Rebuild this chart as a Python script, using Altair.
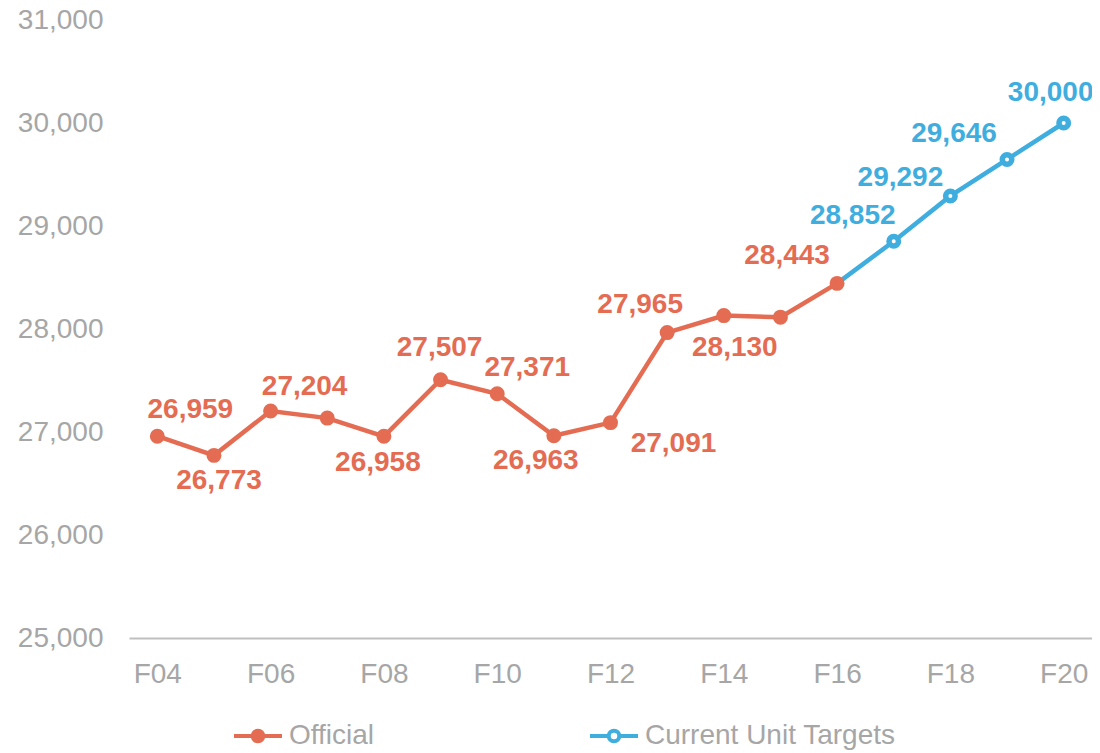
import altair as alt
import pandas as pd

years = ["F04", "F05", "F06", "F07", "F08", "F09", "F10", "F11", "F12",
         "F13", "F14", "F15", "F16", "F17", "F18", "F19", "F20"]
official = [26959, 26773, 27204, 27135, 26958, 27507, 27371, 26963, 27091,
            27965, 28130, 28115, 28443, None, None, None, None]
targets = [None, None, None, None, None, None, None, None, None,
           None, None, None, 28443, 28852, 29292, 29646, 30000]
official_labeled = [True, True, True, False, True, True, True, True, True,
                    True, True, False, True, False, False, False, False]
targets_labeled = [False] * 13 + [True, True, True, True]

# label offsets in pixels (layout only)
official_dx = [33, 5, 34, 0, -6, -1, 30, -18, 63, -27, 11, 0, -50, 0, 0, 0, 0]
official_dy = [-26, 26, -24, 0, 27, -32, -26, 25, 21, -28, 32, 0, -27, 0, 0, 0, 0]
targets_dx = [0] * 13 + [-41, -50, -53, -13]
targets_dy = [0] * 13 + [-25, -18, -25, -30]

series_names = ["Official", "Current Unit Targets"]
ORANGE = "#E46C52"
BLUE = "#3FAEDF"
GRAY = "#A6A6A6"

Y_MIN, Y_MAX = 25000, 31000
PLOT_W, PLOT_H = 963, 618

rows = []
for i, yr in enumerate(years):
    if official[i] is not None:
        rows.append(dict(year=yr, series="Official", value=official[i],
                         label=f"{official[i]:,}" if official_labeled[i] else "",
                         dx=official_dx[i], dy=official_dy[i]))
    if targets[i] is not None:
        rows.append(dict(year=yr, series="Current Unit Targets", value=targets[i],
                         label=f"{targets[i]:,}" if targets_labeled[i] else "",
                         dx=targets_dx[i], dy=targets_dy[i]))
df = pd.DataFrame(rows)
df["showpoint"] = ~((df["series"] == "Current Unit Targets") & (df["year"] == "F16"))

x = alt.X("year:O", scale=alt.Scale(type="point", padding=0.5),
          axis=alt.Axis(values=years[::2], labelAngle=0, ticks=False, domainColor="#BFBFBF",
                        domainWidth=2, labelFontSize=28, labelColor=GRAY, labelPadding=22,
                        title=None))
yscale = alt.Scale(domain=[Y_MIN, Y_MAX], nice=False, zero=False)
y = alt.Y("value:Q", scale=yscale,
          axis=alt.Axis(values=list(range(Y_MIN, Y_MAX + 1, 1000)),
                        labelExpr="format(datum.value, ',')", grid=False,
                        domain=False, ticks=False, labelFontSize=28, labelColor=GRAY,
                        labelPadding=26, title=None))

sym = ("M-1,0L-0.22,0M0.22,0L1,0"
       "M-0.22,0A0.22,0.22,0,1,1,0.22,0A0.22,0.22,0,1,1,-0.22,0Z")
leg = alt.Legend(orient="none", legendX=103, legendY=690, direction="horizontal",
                 title=None, symbolType=sym, symbolSize=2304, symbolStrokeWidth=4,
                 labelFontSize=28, labelColor=GRAY, columnPadding=207, labelOffset=5,
                 padding=0, labelLimit=400)

stroke_scale = alt.Scale(domain=series_names, range=[ORANGE, BLUE])
fill_scale = alt.Scale(domain=series_names, range=[ORANGE, "white"])

base = alt.Chart(df)

lines = base.mark_line(strokeWidth=4.5).encode(
    x=x, y=y,
    stroke=alt.Stroke("series:N", scale=stroke_scale, legend=leg),
)

points = base.transform_filter("datum.showpoint").mark_point(
    filled=True, size=90, strokeWidth=5.5, opacity=1
).encode(
    x=x, y=y,
    stroke=alt.Stroke("series:N", scale=stroke_scale, legend=leg),
    fill=alt.Fill("series:N", scale=fill_scale, legend=leg),
)

px_to_val = (Y_MAX - Y_MIN) / PLOT_H
labels = base.transform_filter("datum.label != ''").transform_calculate(
    label_y=f"datum.value - datum.dy * {px_to_val}"
).mark_text(
    fontSize=28, fontWeight="bold", align="center", baseline="middle"
).encode(
    x=x,
    y=alt.Y("label_y:Q", scale=yscale),
    text="label:N",
    color=alt.Color("series:N", scale=stroke_scale, legend=None),
    xOffset=alt.XOffset("dx:Q", scale=None),
)

chart = alt.layer(lines, points, labels).properties(
    width=PLOT_W, height=PLOT_H,
    autosize=alt.AutoSizeParams(type="none"),
    padding={"left": 121, "top": 12, "right": 0, "bottom": 115},
).configure(font="Liberation Sans").configure_view(stroke=None)

chart.save("out.html", embed_options={"renderer": "svg", "actions": False})
